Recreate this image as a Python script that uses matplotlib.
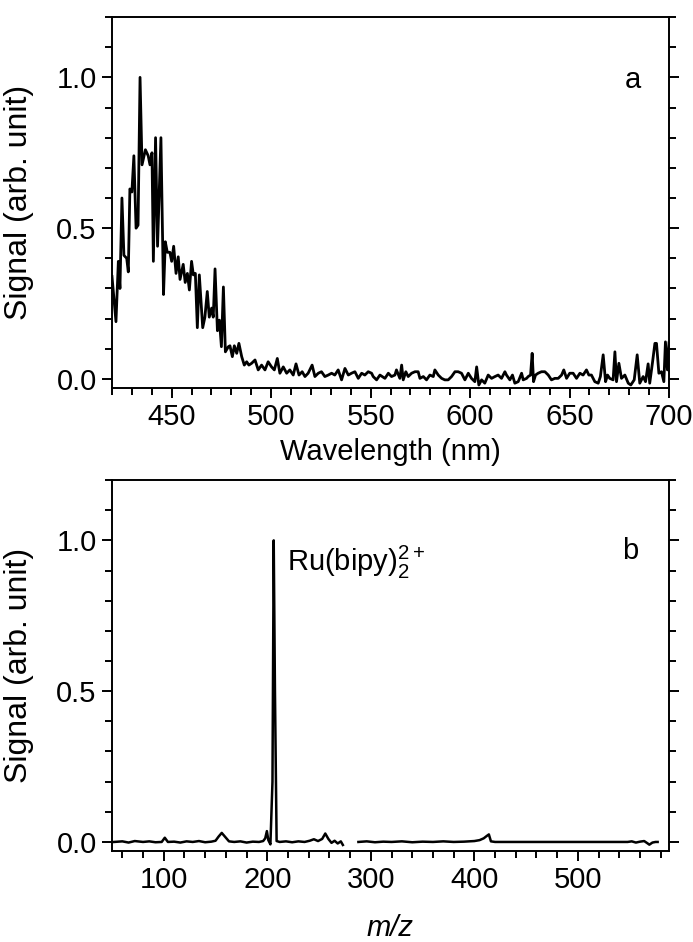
import numpy as np
import matplotlib.pyplot as plt
from matplotlib.ticker import MultipleLocator

plt.rcParams['font.family'] = ['Liberation Sans', 'DejaVu Sans']
plt.rcParams['mathtext.default'] = 'regular'

# panel a: emission spectrum
wavelength = [420.0, 422.0, 423.2, 424.0, 425.0, 426.0, 427.4, 428.2, 429.0, 430.0,
              431.0, 432.1, 433.1, 434.1, 435.1, 436.8, 438.2, 439.1, 440.1, 440.8,
              441.9, 442.9, 444.6, 445.9, 446.8, 447.8, 449.1, 450.0, 451.0, 452.2,
              453.3, 454.2, 455.8, 456.8, 457.9, 458.9, 460.0, 460.9, 461.9, 462.9,
              463.9, 465.6, 466.7, 467.9, 468.9, 470.1, 470.9, 471.8, 473.0, 474.0,
              475.0, 476.0, 477.0, 478.5, 479.3, 480.5, 481.5, 482.7, 483.8, 485.2,
              486.5, 487.7, 488.8, 490.2, 491.9, 493.5, 495.2, 496.9, 498.5, 500.2,
              501.6, 503.1, 504.4, 506.1, 507.8, 509.4, 511.1, 512.5, 514.0, 515.6,
              517.0, 518.6, 520.6, 522.0, 523.7, 525.3, 527.0, 528.7, 530.4, 532.0,
              533.7, 535.4, 537.1, 538.8, 540.4, 542.1, 543.8, 545.5, 547.1, 548.8,
              550.5, 551.3, 553.0, 554.7, 557.2, 558.9, 560.5, 562.2, 563.0, 564.7,
              565.6, 566.4, 567.7, 568.9, 570.6, 572.3, 573.9, 574.8, 576.5, 578.1,
              579.8, 581.5, 582.3, 584.0, 585.7, 587.3, 589.0, 590.7, 592.4, 594.0,
              595.7, 597.4, 599.1, 600.7, 602.4, 603.3, 604.4, 605.8, 607.4, 609.1,
              610.8, 612.5, 614.1, 615.8, 617.5, 618.3, 620.0, 621.3, 622.5, 624.2,
              625.9, 626.7, 628.4, 629.2, 630.4, 631.2, 631.9, 632.9, 634.2, 635.9,
              637.6, 639.3, 640.9, 642.6, 644.3, 646.0, 647.1, 648.5, 650.1, 651.8,
              653.5, 655.2, 656.8, 658.5, 659.7, 661.0, 662.7, 664.4, 665.5, 666.9,
              668.1, 669.1, 670.2, 671.9, 672.8, 673.6, 674.8, 676.1, 677.8, 679.5,
              680.8, 682.5, 684.0, 685.3, 687.0, 688.2, 689.5, 690.3, 691.7, 692.9,
              693.7, 694.9, 696.2, 697.4, 698.2, 699.2, 700.0]
signal_a = [0.34, 0.19, 0.39, 0.30, 0.60, 0.41, 0.40, 0.355, 0.63, 0.62,
            0.74, 0.50, 0.51, 1.00, 0.71, 0.76, 0.74, 0.71, 0.75, 0.39,
            0.80, 0.44, 0.80, 0.28, 0.455, 0.42, 0.42, 0.39, 0.44, 0.35,
            0.405, 0.33, 0.38, 0.32, 0.35, 0.295, 0.39, 0.345, 0.35, 0.17,
            0.345, 0.17, 0.205, 0.29, 0.205, 0.235, 0.205, 0.365, 0.16, 0.195,
            0.107, 0.305, 0.09, 0.107, 0.11, 0.074, 0.11, 0.085, 0.118, 0.074,
            0.046, 0.057, 0.046, 0.052, 0.063, 0.03, 0.046, 0.03, 0.057, 0.04,
            0.03, 0.068, 0.019, 0.04, 0.019, 0.03, 0.013, 0.05, 0.013, 0.024,
            0.008, 0.019, 0.046, 0.008, 0.019, 0.024, 0.008, 0.013, 0.019, 0.013,
            0.03, -0.003, 0.035, 0.013, 0.019, 0.024, 0.002, 0.019, 0.013, 0.024,
            0.019, 0.008, -0.003, 0.013, 0.002, 0.019, 0.008, 0.013, 0.03, 0.002,
            0.046, -0.003, 0.024, 0.008, 0.019, 0.024, 0.024, 0.002, 0.008, -0.003,
            0.013, 0.008, 0.03, 0.013, 0.002, -0.003, -0.003, 0.008, 0.024, 0.024,
            0.019, -0.003, 0.019, 0.002, -0.009, 0.04, -0.02, -0.003, -0.014, 0.013,
            0.002, 0.008, 0.013, 0.002, 0.024, 0.013, -0.003, 0.013, -0.014, -0.009,
            0.019, -0.003, 0.002, 0.008, 0.013, 0.085, -0.009, 0.013, 0.019, 0.024,
            0.024, 0.013, -0.003, 0.002, 0.002, 0.013, 0.03, 0.002, 0.019, 0.019,
            0.002, 0.019, 0.013, 0.03, 0.013, 0.013, -0.009, -0.014, 0.008, 0.08,
            -0.009, 0.013, 0.002, -0.003, 0.09, -0.009, 0.052, 0.002, 0.013, -0.014,
            -0.02, -0.003, 0.08, -0.014, 0.008, -0.009, 0.05, -0.014, 0.055, 0.118,
            0.118, 0.019, 0.024, -0.009, 0.123, 0.03, 0.12]

# panel b: mass spectrum (nan = no data)
mz = [52, 60, 66, 72, 80, 86, 92, 98, 101, 104, 110, 116, 122, 128, 134, 140, 146,
      150, 153, 156, 159, 163, 168, 174, 180, 186, 192, 196, 198, 199.6, 201, 203,
      205, 206.2, 207.4, 209, 212, 218, 224, 230, 236, 241, 245, 249, 253, 256, 259,
      262, 265, 268, 271, 273, 278, 288, 296, 304, 312, 320, 330, 340, 350, 360, 370,
      380, 390, 400, 405, 409, 412, 414, 416, 420, 440, 460, 480, 500, 520, 540, 548,
      552, 556, 560, 564, 567, 569, 572, 575, 577]
signal_b = [0.0, 0.002, -0.002, 0.003, 0.0, 0.002, -0.001, 0.0, 0.014, 0.0, 0.001, -0.002,
            0.002, 0.0, 0.003, -0.001, 0.001, 0.004, 0.018, 0.03, 0.018, 0.002, 0.0,
            0.002, -0.002, 0.001, 0.0, 0.003, 0.012, 0.036, 0.006, -0.008, 0.2, 1.0,
            0.5, 0.003, 0.0, 0.002, -0.001, 0.002, 0.0, 0.004, 0.009, 0.003, 0.01, 0.028,
            0.01, -0.003, 0.004, -0.005, 0.002, -0.01, np.nan, 0.0, 0.002, -0.001, 0.001,
            0.0, 0.002, -0.001, 0.001, 0.0, 0.002, 0.0, 0.001, 0.003, 0.006, 0.012,
            0.02, 0.025, 0.002, 0.0, 0.0, 0.0, 0.0, 0.0, 0.0, 0.0, 0.0, 0.002, -0.002,
            0.001, 0.003, -0.004, -0.009, -0.002, 0.0, 0.0]

fig = plt.figure(figsize=(6.93, 9.42), dpi=100)
ax1 = fig.add_axes([0.1616, 0.5881, 0.8038, 0.3938])
ax2 = fig.add_axes([0.1616, 0.0966, 0.8038, 0.3938])

ax1.plot(wavelength, signal_a, color='black', lw=2.0)
ax2.plot(mz, signal_b, color='black', lw=1.8)

fs = 21
ax1.set_xlim(420, 700)
ax2.set_xlim(50, 588)
for ax in (ax1, ax2):
    ax.set_ylim(-0.03, 1.2)
    ax.yaxis.set_major_locator(MultipleLocator(0.5))
    ax.yaxis.set_minor_locator(MultipleLocator(0.1))
    ax.yaxis.set_major_formatter(plt.FormatStrFormatter('%.1f'))
    ax.tick_params(which='both', direction='out', width=1.4, labelsize=fs, pad=4,
                   left=True, right=True, top=False, bottom=True)
    ax.tick_params(which='major', length=7)
    ax.tick_params(which='minor', length=5)
    for s in ax.spines.values():
        s.set_linewidth(1.4)
    ax.set_ylabel('Signal (arb. unit)', fontsize=23)
    ax.yaxis.set_label_coords(-0.14, 0.5)

ax1.xaxis.set_major_locator(MultipleLocator(50))
ax1.xaxis.set_minor_locator(MultipleLocator(10))
ax1.set_xticks([450, 500, 550, 600, 650, 700])
ax2.xaxis.set_major_locator(MultipleLocator(100))
ax2.xaxis.set_minor_locator(MultipleLocator(20))

ax1.set_xlabel('Wavelength (nm)', fontsize=fs, va='top')
ax1.xaxis.set_label_coords(0.5, -0.135)
ax2.set_xlabel('m/z', fontsize=fs, fontstyle='italic', va='baseline')
ax2.xaxis.set_label_coords(0.5, -0.23)

ax1.text(0.935, 0.83, 'a', transform=ax1.transAxes, fontsize=fs, ha='center', va='center')
ax2.text(0.93, 0.81, 'b', transform=ax2.transAxes, fontsize=fs, ha='center', va='center')
ax2.text(219, 0.9, 'Ru(bipy)$_2^{2+}$', fontsize=fs, ha='left', va='baseline')

fig.savefig('out.png', dpi=100)
